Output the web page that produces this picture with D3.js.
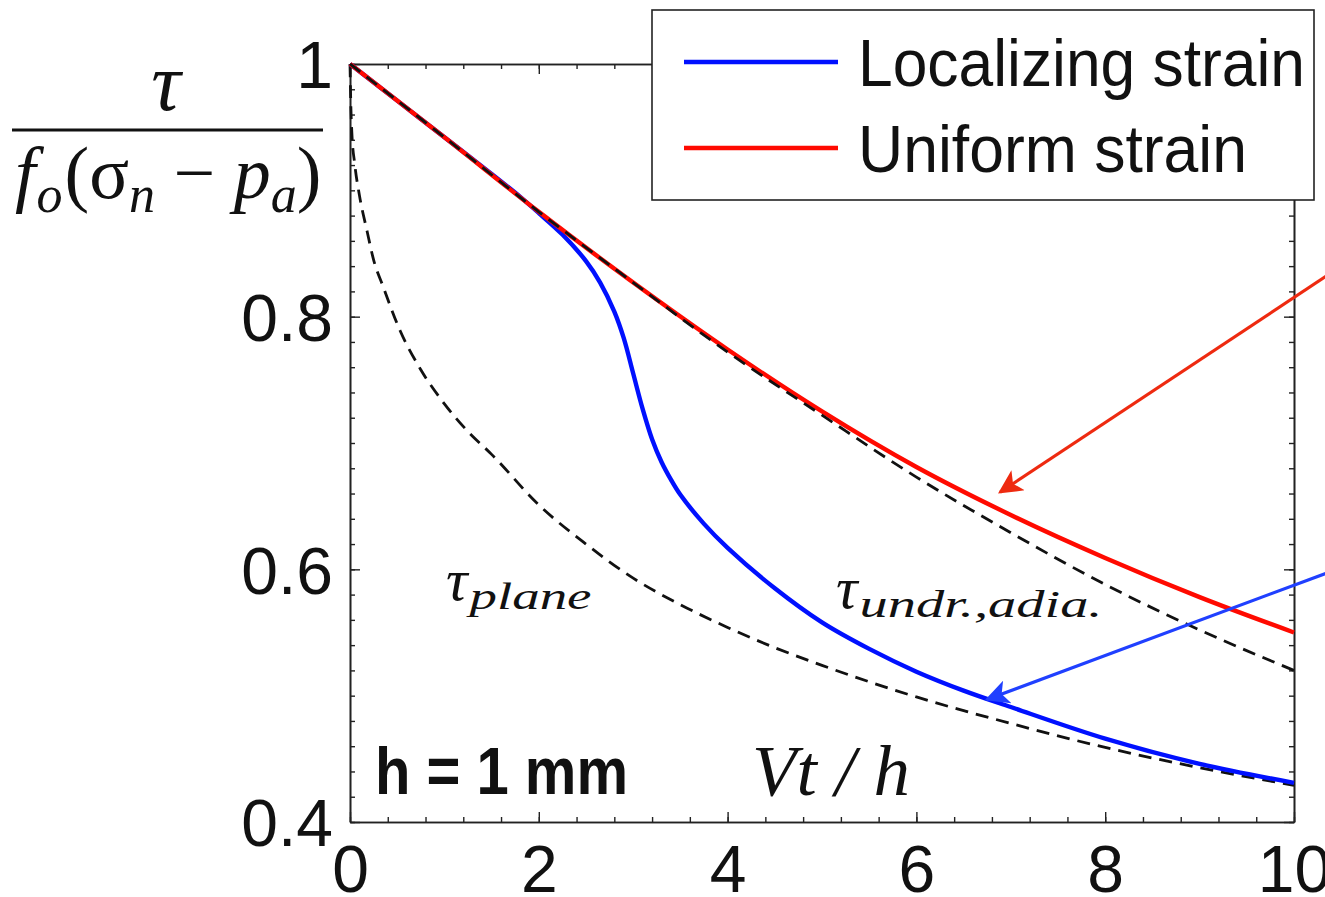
<!DOCTYPE html>
<html><head><meta charset="utf-8">
<script src="https://cdn.jsdelivr.net/npm/d3@7"></script>
<style>body{margin:0;background:#fff}svg{display:block}</style>
</head><body>
<svg id="c" width="1325" height="897"></svg>
<script>
// ---- data ----
const seriesNames = ["Localizing strain", "Uniform strain"];
const xTickValues = [0, 2, 4, 6, 8, 10];
const yTickValues = [0.4, 0.6, 0.8, 1];
const yTickLabels = ["0.4", "0.6", "0.8", "1"];

const uniformX = [0,1,2,3,4,5,6,7,8,9,10];
const uniformY = [1,0.942,0.883,0.827,0.774,0.725,0.681,0.643,0.609,0.578,0.550];

const undrX = [0,1,2,3,4,5,6,7,8,9,10];
const undrY = [1,0.942,0.883,0.827,0.772,0.722,0.673,0.629,0.588,0.552,0.520];

const localX = [0,0.5,1,1.5,1.8,2,2.25,2.5,2.65,2.8,2.9,3,3.1,3.2,3.3,3.4,3.5,3.75,4,4.5,5,5.5,6,6.5,7,8,9,10];
const localY = [1,0.971,0.942,0.913,0.895,0.882,0.865,0.844,0.827,0.804,0.783,0.755,0.727,0.703,0.685,0.671,0.659,0.636,0.617,0.585,0.558,0.537,0.519,0.504,0.491,0.466,0.446,0.431];

const planeX = [0,0.01,0.02,0.05,0.1,0.18,0.25,0.35,0.53,0.75,1,1.25,1.5,2,2.5,3,3.5,4,4.5,5,6,7,8,9,10];
const planeY = [1,0.964,0.945,0.921,0.896,0.868,0.845,0.824,0.789,0.758,0.731,0.709,0.691,0.651,0.620,0.593,0.572,0.554,0.538,0.524,0.499,0.478,0.459,0.443,0.429];

// annotation arrows (data coords: [x0,y0] tail, [x1,y1] tip)
const redArrow = [[10.38, 0.834], [6.886, 0.661]];
const blueArrow = [[10.38, 0.598], [6.748, 0.497]];

// ---- chart ----
const svg = d3.select("#c");
const x = d3.scaleLinear([0, 10], [350, 1294]);
const y = d3.scaleLinear([0.4, 1], [822, 64]);

const BLUE = "#0010ff", RED = "#ff0a00";

function styleAxis(g) {
  g.select(".domain").attr("stroke", "#222").attr("stroke-width", 1.6);
  g.selectAll(".tick line").attr("stroke", "#222").attr("stroke-width", 1.4);
  g.selectAll(".tick text").attr("fill", "#111")
    .attr("font-family", "'Liberation Sans', Arial, Helvetica, sans-serif")
    .attr("font-size", 66);
}

const minorX = d3.range(0, 10.001, 0.4);
const minorY = d3.range(0.4, 1.0001, 0.02);

// minor ticks
svg.append("g").attr("transform", "translate(0,822)")
  .call(d3.axisBottom(x).tickValues(minorX).tickSize(-5).tickSizeOuter(0).tickFormat("")).call(styleAxis);
svg.append("g").attr("transform", "translate(0,64)")
  .call(d3.axisTop(x).tickValues(minorX).tickSize(-5).tickSizeOuter(0).tickFormat("")).call(styleAxis);
svg.append("g").attr("transform", "translate(350,0)")
  .call(d3.axisLeft(y).tickValues(minorY).tickSize(-5).tickSizeOuter(0).tickFormat("")).call(styleAxis);
svg.append("g").attr("transform", "translate(1294,0)")
  .call(d3.axisRight(y).tickValues(minorY).tickSize(-5).tickSizeOuter(0).tickFormat("")).call(styleAxis);

// major ticks
svg.append("g").attr("transform", "translate(0,822)")
  .call(d3.axisBottom(x).tickValues(xTickValues).tickSize(-10).tickSizeOuter(0).tickPadding(23).tickFormat(d => String(d)))
  .call(styleAxis);
svg.append("g").attr("transform", "translate(0,64)")
  .call(d3.axisTop(x).tickValues(xTickValues).tickSize(-10).tickSizeOuter(0).tickFormat("")).call(styleAxis);
svg.append("g").attr("transform", "translate(350,0)")
  .call(d3.axisLeft(y).tickValues(yTickValues).tickSize(-10).tickSizeOuter(0).tickPadding(17)
    .tickFormat((d, i) => yTickLabels[i]))
  .call(styleAxis)
  .selectAll(".tick text").attr("dy", "0.36em");
svg.append("g").attr("transform", "translate(1294,0)")
  .call(d3.axisRight(y).tickValues(yTickValues).tickSize(-10).tickSizeOuter(0).tickFormat("")).call(styleAxis);

// curves
const line = d3.line().x(d => x(d[0])).y(d => y(d[1])).curve(d3.curveMonotoneX);
const smoothLine = d3.line().x(d => x(d[0])).y(d => y(d[1])).curve(d3.curveCatmullRom.alpha(0.5));
const zip = (a, b) => a.map((v, i) => [v, b[i]]);

svg.append("path").datum(zip(planeX, planeY)).attr("d", line)
  .attr("fill", "none").attr("stroke", "#111").attr("stroke-width", 2.8).attr("stroke-dasharray", "13,8");
svg.append("path").datum(zip(localX, localY)).attr("d", smoothLine)
  .attr("fill", "none").attr("stroke", BLUE).attr("stroke-width", 4.4);
svg.append("path").datum(zip(uniformX, uniformY)).attr("d", line)
  .attr("fill", "none").attr("stroke", RED).attr("stroke-width", 4.4);
svg.append("path").datum(zip(undrX, undrY)).attr("d", line)
  .attr("fill", "none").attr("stroke", "#111").attr("stroke-width", 2.8).attr("stroke-dasharray", "13,8");

// arrows
const defs = svg.append("defs");
[["ahRed", "#ee2a10"], ["ahBlue", "#2040ff"]].forEach(([id, col]) => {
  defs.append("marker").attr("id", id).attr("viewBox", "0 0 10 10").attr("refX", 9).attr("refY", 5)
    .attr("markerUnits", "userSpaceOnUse").attr("markerWidth", 30).attr("markerHeight", 24).attr("orient", "auto")
    .append("path").attr("d", "M0,0 L10,5 L0,10 L2.5,5 Z").attr("fill", col);
});
svg.append("line").attr("x1", x(redArrow[0][0])).attr("y1", y(redArrow[0][1]))
  .attr("x2", x(redArrow[1][0])).attr("y2", y(redArrow[1][1]))
  .attr("stroke", "#ee2a10").attr("stroke-width", 3.2).attr("marker-end", "url(#ahRed)");
svg.append("line").attr("x1", x(blueArrow[0][0])).attr("y1", y(blueArrow[0][1]))
  .attr("x2", x(blueArrow[1][0])).attr("y2", y(blueArrow[1][1]))
  .attr("stroke", "#2040ff").attr("stroke-width", 3.2).attr("marker-end", "url(#ahBlue)");

// curve labels
const serif = "'Liberation Serif', 'Times New Roman', serif";
function tauLabel(px, py, sub, subLen) {
  const t = svg.append("text").attr("x", px).attr("y", py).attr("font-family", serif)
    .attr("font-style", "italic").attr("fill", "#111");
  t.append("tspan").attr("font-size", 60).text("τ");
  t.append("tspan").attr("font-size", 38).attr("dy", 9).attr("dx", 2)
    .attr("textLength", subLen).attr("lengthAdjust", "spacingAndGlyphs").text(sub);
}
tauLabel(446, 600, "plane", 122);
tauLabel(836, 608, "undr.,adia.", 243);

// annotations
svg.append("text").attr("x", 375).attr("y", 794).attr("font-family", "'Liberation Sans', Arial, sans-serif")
  .attr("font-weight", "bold").attr("font-size", 66).attr("fill", "#111")
  .attr("textLength", 253).attr("lengthAdjust", "spacingAndGlyphs").text("h = 1 mm");
svg.append("text").attr("x", 752).attr("y", 795).attr("font-family", serif)
  .attr("font-style", "italic").attr("font-size", 72).attr("fill", "#111")
  .attr("textLength", 158).attr("lengthAdjust", "spacingAndGlyphs").text("Vt / h");

// y label as fraction
svg.append("text").attr("x", 166).attr("y", 110).attr("text-anchor", "middle")
  .attr("font-family", serif).attr("font-style", "italic").attr("font-size", 82).attr("fill", "#111").text("τ");
svg.append("line").attr("x1", 12).attr("x2", 323).attr("y1", 130).attr("y2", 130)
  .attr("stroke", "#111").attr("stroke-width", 3);
const den = svg.append("text").attr("x", 15).attr("y", 198).attr("font-family", serif)
  .attr("font-size", 74).attr("fill", "#111");
den.append("tspan").attr("font-style", "italic").text("f");
den.append("tspan").attr("font-style", "italic").attr("font-size", 52).attr("dy", 14).attr("dx", 1).text("o");
den.append("tspan").attr("dy", -14).attr("dx", 2).text("(σ");
den.append("tspan").attr("font-style", "italic").attr("font-size", 52).attr("dy", 14).text("n");
den.append("tspan").attr("dy", -14).text(" − ");
den.append("tspan").attr("font-style", "italic").text("p");
den.append("tspan").attr("font-style", "italic").attr("font-size", 52).attr("dy", 14).text("a");
den.append("tspan").attr("dy", -14).text(")");

// legend
const lg = svg.append("g");
lg.append("rect").attr("x", 652).attr("y", 10).attr("width", 662).attr("height", 190)
  .attr("fill", "#fff").attr("stroke", "#222").attr("stroke-width", 1.6);
const legendColors = [BLUE, RED];
const legendLens = [447, 389];
seriesNames.forEach((name, i) => {
  const cy = 62 + i * 86;
  lg.append("line").attr("x1", 684).attr("x2", 838).attr("y1", cy).attr("y2", cy)
    .attr("stroke", legendColors[i]).attr("stroke-width", 4.4);
  lg.append("text").attr("x", 858).attr("y", cy + 24)
    .attr("font-family", "'Liberation Sans', Arial, Helvetica, sans-serif").attr("font-size", 66)
    .attr("fill", "#111").attr("textLength", legendLens[i]).attr("lengthAdjust", "spacingAndGlyphs").text(name);
});
</script>
</body></html>
